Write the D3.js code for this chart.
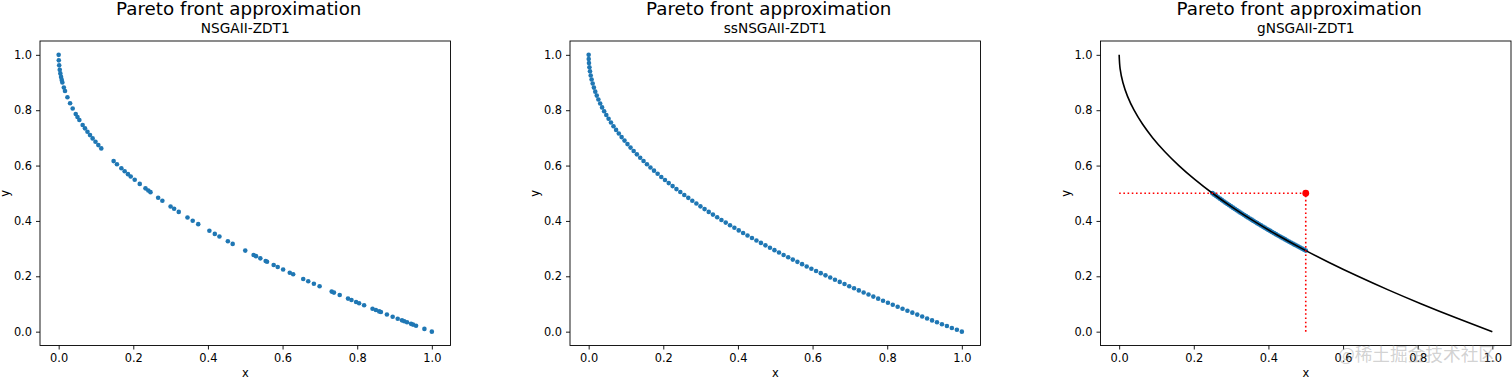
<!DOCTYPE html>
<html>
<head>
<meta charset="utf-8">
<script src="https://cdn.jsdelivr.net/npm/d3@7"></script>
<style>
  html, body { margin: 0; padding: 0; background: #fff; }
  svg { display: block; }
  text { font-family: "DejaVu Sans", sans-serif; }
</style>
</head>
<body>
<svg id="chart" width="1512" height="379"></svg>
<script>
// ---------------- data ----------------
const mainTitle = "Pareto front approximation";
const panelTitles = ["NSGAII-ZDT1", "ssNSGAII-ZDT1", "gNSGAII-ZDT1"];
const axisLabelX = "x";
const axisLabelY = "y";
const tickValues = [0.0, 0.2, 0.4, 0.6, 0.8, 1.0];
const watermark = "@稀土掘金技术社区";

// NSGAII-ZDT1 (irregular spread)
const nsgaiiX = [0, 0.0004, 0.0014, 0.0029, 0.0045, 0.0064, 0.0082, 0.0099, 0.0139, 0.0170,
  0.0235, 0.0306, 0.0376, 0.0457, 0.0504, 0.0555, 0.0643, 0.0705, 0.0772, 0.0840,
  0.0911, 0.0987, 0.1063, 0.1142,
  0.1473, 0.1562, 0.1680, 0.1769, 0.1858, 0.1931, 0.2038, 0.2173, 0.2326, 0.2402,
  0.2461, 0.2666, 0.2779, 0.2999, 0.3094, 0.3218, 0.3452, 0.3592, 0.3740, 0.4039,
  0.4184, 0.4308, 0.4534, 0.4663,
  0.5000, 0.5224, 0.5288, 0.5404, 0.5547, 0.5584, 0.5762, 0.5870, 0.6015, 0.6193,
  0.6284, 0.6554, 0.6688, 0.6839, 0.6992, 0.7316, 0.7377, 0.7531, 0.7754, 0.7846,
  0.7970, 0.8051, 0.8185, 0.8411, 0.8500, 0.8589, 0.8635, 0.8796, 0.8950, 0.9085,
  0.9200, 0.9262, 0.9335, 0.9443, 0.9496, 0.9577, 0.9801, 1.0000];
const nsgaiiY = [1.0, 0.9801, 0.9620, 0.9457, 0.9330, 0.9203, 0.9094, 0.9004, 0.8822, 0.8696,
  0.8467, 0.8250, 0.8062, 0.7862, 0.7754, 0.7645, 0.7464, 0.7344, 0.7221, 0.7101,
  0.6982, 0.6859, 0.6739, 0.6620,
  0.6162, 0.6048, 0.5901, 0.5794, 0.5690, 0.5606, 0.5486, 0.5338, 0.5177, 0.5099,
  0.5039, 0.4837, 0.4728, 0.4524, 0.4438, 0.4327, 0.4125, 0.4007, 0.3884, 0.3645,
  0.3532, 0.3436, 0.3266, 0.3171,
  0.2929, 0.2772, 0.2728, 0.2649, 0.2552, 0.2527, 0.2409, 0.2338, 0.2244, 0.2130,
  0.2073, 0.1904, 0.1822, 0.1730, 0.1638, 0.1447, 0.1411, 0.1322, 0.1194, 0.1142,
  0.1072, 0.1027, 0.0953, 0.0829, 0.0780, 0.0732, 0.0708, 0.0621, 0.0540, 0.0469,
  0.0408, 0.0376, 0.0338, 0.0282, 0.0255, 0.0214, 0.0100, 0.0];

// ssNSGAII-ZDT1 (evenly spread)
const ssnsgaiiX = [0, 0.0002, 0.0009, 0.0020, 0.0036, 0.0055, 0.0079, 0.0108, 0.0140, 0.0177,
  0.0217, 0.0261, 0.0309, 0.0360, 0.0415, 0.0473, 0.0534, 0.0598, 0.0665, 0.0735,
  0.0808, 0.0883, 0.0960, 0.1040, 0.1122, 0.1206, 0.1292, 0.1381, 0.1471, 0.1562,
  0.1656, 0.1751, 0.1848, 0.1946, 0.2045, 0.2146, 0.2249, 0.2352, 0.2456, 0.2562,
  0.2669, 0.2777, 0.2886, 0.2995, 0.3106, 0.3218, 0.3330, 0.3444, 0.3558, 0.3673,
  0.3788, 0.3905, 0.4022, 0.4139, 0.4257, 0.4376, 0.4496, 0.4616, 0.4737, 0.4858,
  0.4979, 0.5101, 0.5224, 0.5347, 0.5470, 0.5594, 0.5719, 0.5843, 0.5968, 0.6094,
  0.6220, 0.6346, 0.6473, 0.6600, 0.6728, 0.6856, 0.6983, 0.7112, 0.7240, 0.7369,
  0.7499, 0.7628, 0.7758, 0.7888, 0.8019, 0.8149, 0.8280, 0.8411, 0.8542, 0.8674,
  0.8805, 0.8937, 0.9069, 0.9202, 0.9334, 0.9467, 0.9600, 0.9733, 0.9867, 1.0];
const ssnsgaiiY = [1.0, 0.9851, 0.9701, 0.9552, 0.9404, 0.9256, 0.9108, 0.8962, 0.8816, 0.8671,
  0.8527, 0.8384, 0.8242, 0.8101, 0.7963, 0.7826, 0.7689, 0.7554, 0.7421, 0.7289,
  0.7158, 0.7028, 0.6902, 0.6775, 0.6650, 0.6527, 0.6405, 0.6284, 0.6165, 0.6047,
  0.5931, 0.5816, 0.5702, 0.5589, 0.5477, 0.5367, 0.5258, 0.5150, 0.5044, 0.4938,
  0.4834, 0.4731, 0.4628, 0.4527, 0.4427, 0.4327, 0.4229, 0.4132, 0.4035, 0.3940,
  0.3845, 0.3751, 0.3658, 0.3566, 0.3475, 0.3384, 0.3295, 0.3206, 0.3118, 0.3030,
  0.2944, 0.2858, 0.2772, 0.2688, 0.2604, 0.2521, 0.2438, 0.2356, 0.2274, 0.2194,
  0.2113, 0.2034, 0.1954, 0.1876, 0.1798, 0.1720, 0.1643, 0.1567, 0.1491, 0.1415,
  0.1341, 0.1266, 0.1192, 0.1118, 0.1045, 0.0973, 0.0901, 0.0829, 0.0758, 0.0687,
  0.0616, 0.0546, 0.0477, 0.0407, 0.0339, 0.0270, 0.0202, 0.0134, 0.0067, 0.0];

// gNSGAII-ZDT1 (concentrated near the reference point)
const gnsgaiiX = [0.250, 0.255, 0.260, 0.265, 0.270, 0.275, 0.280, 0.285, 0.290, 0.295,
  0.300, 0.305, 0.310, 0.315, 0.320, 0.325, 0.330, 0.335, 0.340, 0.345,
  0.350, 0.355, 0.360, 0.365, 0.370, 0.375, 0.380, 0.385, 0.390, 0.395,
  0.400, 0.405, 0.410, 0.415, 0.420, 0.425, 0.430, 0.435, 0.440, 0.445,
  0.450, 0.455, 0.460, 0.465, 0.470, 0.475, 0.480, 0.485, 0.490, 0.495, 0.500];
const gnsgaiiY = [0.5000, 0.4950, 0.4901, 0.4852, 0.4804, 0.4756, 0.4708, 0.4661, 0.4615, 0.4569,
  0.4523, 0.4477, 0.4432, 0.4388, 0.4343, 0.4299, 0.4255, 0.4212, 0.4169, 0.4126,
  0.4084, 0.4042, 0.4000, 0.3958, 0.3917, 0.3876, 0.3836, 0.3795, 0.3755, 0.3715,
  0.3675, 0.3636, 0.3597, 0.3558, 0.3519, 0.3481, 0.3443, 0.3405, 0.3367, 0.3329,
  0.3292, 0.3255, 0.3218, 0.3181, 0.3144, 0.3108, 0.3072, 0.3036, 0.3000, 0.2964, 0.2929];

// reference (true) front for ZDT1
const refFrontX = [0, 0.0025, 0.01, 0.0225, 0.04, 0.0625, 0.09, 0.1225, 0.16, 0.2025, 0.25,
  0.3025, 0.36, 0.4225, 0.49, 0.5625, 0.64, 0.7225, 0.81, 0.9025, 1.0];
const refFrontY = [1.0, 0.95, 0.9, 0.85, 0.8, 0.75, 0.7, 0.65, 0.6, 0.55, 0.5,
  0.45, 0.4, 0.35, 0.3, 0.25, 0.2, 0.15, 0.1, 0.05, 0.0];
const referencePoint = [0.5, 0.5];

// ---------------- drawing ----------------
const svg = d3.select("#chart");
const panelLefts = [40, 570, 1100.5];
const panelW = 410.5, plotTop = 41, plotBottom = 345.5;
const blue = "#1f77b4";

const datasets = [
  {x: nsgaiiX, y: nsgaiiY},
  {x: ssnsgaiiX, y: ssnsgaiiY},
  {x: gnsgaiiX, y: gnsgaiiY}
];

panelLefts.forEach((left, i) => {
  const xs = d3.scaleLinear().domain([-0.05, 1.05]).range([left, left + panelW]);
  const ys = d3.scaleLinear().domain([-0.05, 1.05]).range([plotBottom, plotTop]);
  const g = svg.append("g");
  const cx = left + panelW / 2;

  // titles
  g.append("text").attr("x", cx - 6.5).attr("y", 14.7).attr("text-anchor", "middle")
    .style("font-size", "18.3px").attr("fill", "#000").text(mainTitle);
  g.append("text").attr("x", cx).attr("y", 33.3).attr("text-anchor", "middle")
    .style("font-size", "13.7px").attr("fill", "#000").text(panelTitles[i]);

  // axes
  const ax = g.append("g").attr("transform", `translate(0,${plotBottom})`)
    .call(d3.axisBottom(xs).tickValues(tickValues).tickFormat(d3.format(".1f")).tickSize(4).tickPadding(4));
  const ay = g.append("g").attr("transform", `translate(${left},0)`)
    .call(d3.axisLeft(ys).tickValues(tickValues).tickFormat(d3.format(".1f")).tickSize(4).tickPadding(4));
  [ax, ay].forEach(a => {
    a.select(".domain").remove();
    a.selectAll(".tick line").attr("stroke", "#000").attr("stroke-width", 0.9);
    a.selectAll(".tick text").attr("fill", "#000").style("font-size", "11.4px")
      .style("font-family", "DejaVu Sans, sans-serif");
  });

  g.append("text").attr("x", cx).attr("y", 377).attr("text-anchor", "middle")
    .style("font-size", "11.4px").attr("fill", "#000").text(axisLabelX);
  g.append("text").attr("transform", `translate(${left - 31},${(plotTop + plotBottom) / 2}) rotate(-90)`)
    .attr("text-anchor", "middle").style("font-size", "11.4px").attr("fill", "#000").text(axisLabelY);

  const plot = g.append("g");
  const d = datasets[i];
  const pts = d.x.map((v, k) => [v, d.y[k]]);

  if (i < 2) {
    plot.selectAll("circle").data(pts).join("circle")
      .attr("cx", p => xs(p[0])).attr("cy", p => ys(p[1]))
      .attr("r", 2.3).attr("fill", blue);
  } else {
    plot.selectAll("circle.pop").data(pts).join("circle").attr("class", "pop")
      .attr("cx", p => xs(p[0])).attr("cy", p => ys(p[1]))
      .attr("r", 2.4).attr("fill", blue);
    const ref = refFrontX.map((v, k) => [v, refFrontY[k]]);
    plot.append("path").datum(ref)
      .attr("d", d3.line().x(p => xs(p[0])).y(p => ys(p[1])).curve(d3.curveCatmullRom.alpha(0.5)))
      .attr("fill", "none").attr("stroke", "#000").attr("stroke-width", 1.6);
    // reference point guide lines
    plot.append("line")
      .attr("x1", xs(0)).attr("x2", xs(referencePoint[0]))
      .attr("y1", ys(referencePoint[1])).attr("y2", ys(referencePoint[1]))
      .attr("stroke", "#ff0000").attr("stroke-width", 1.6).attr("stroke-dasharray", "1.6,2.6");
    plot.append("line")
      .attr("x1", xs(referencePoint[0])).attr("x2", xs(referencePoint[0]))
      .attr("y1", ys(0)).attr("y2", ys(referencePoint[1]))
      .attr("stroke", "#ff0000").attr("stroke-width", 1.6).attr("stroke-dasharray", "1.6,2.6");
    plot.append("circle").attr("cx", xs(referencePoint[0])).attr("cy", ys(referencePoint[1]))
      .attr("r", 3.4).attr("fill", "#ff0000");
  }

  // frame
  g.append("rect").attr("x", left).attr("y", plotTop).attr("width", panelW).attr("height", plotBottom - plotTop)
    .attr("fill", "none").attr("stroke", "#000").attr("stroke-width", 0.9);
});

// watermark (overlays the bottom-right corner as in the reference)
svg.append("text").attr("x", 1338).attr("y", 361)
  .attr("textLength", 158).attr("lengthAdjust", "spacingAndGlyphs")
  .style("font-family", "'Noto Sans CJK SC', sans-serif").style("font-size", "18px")
  .attr("fill", "rgba(140,140,140,0.4)").text(watermark);
</script>
</body>
</html>
